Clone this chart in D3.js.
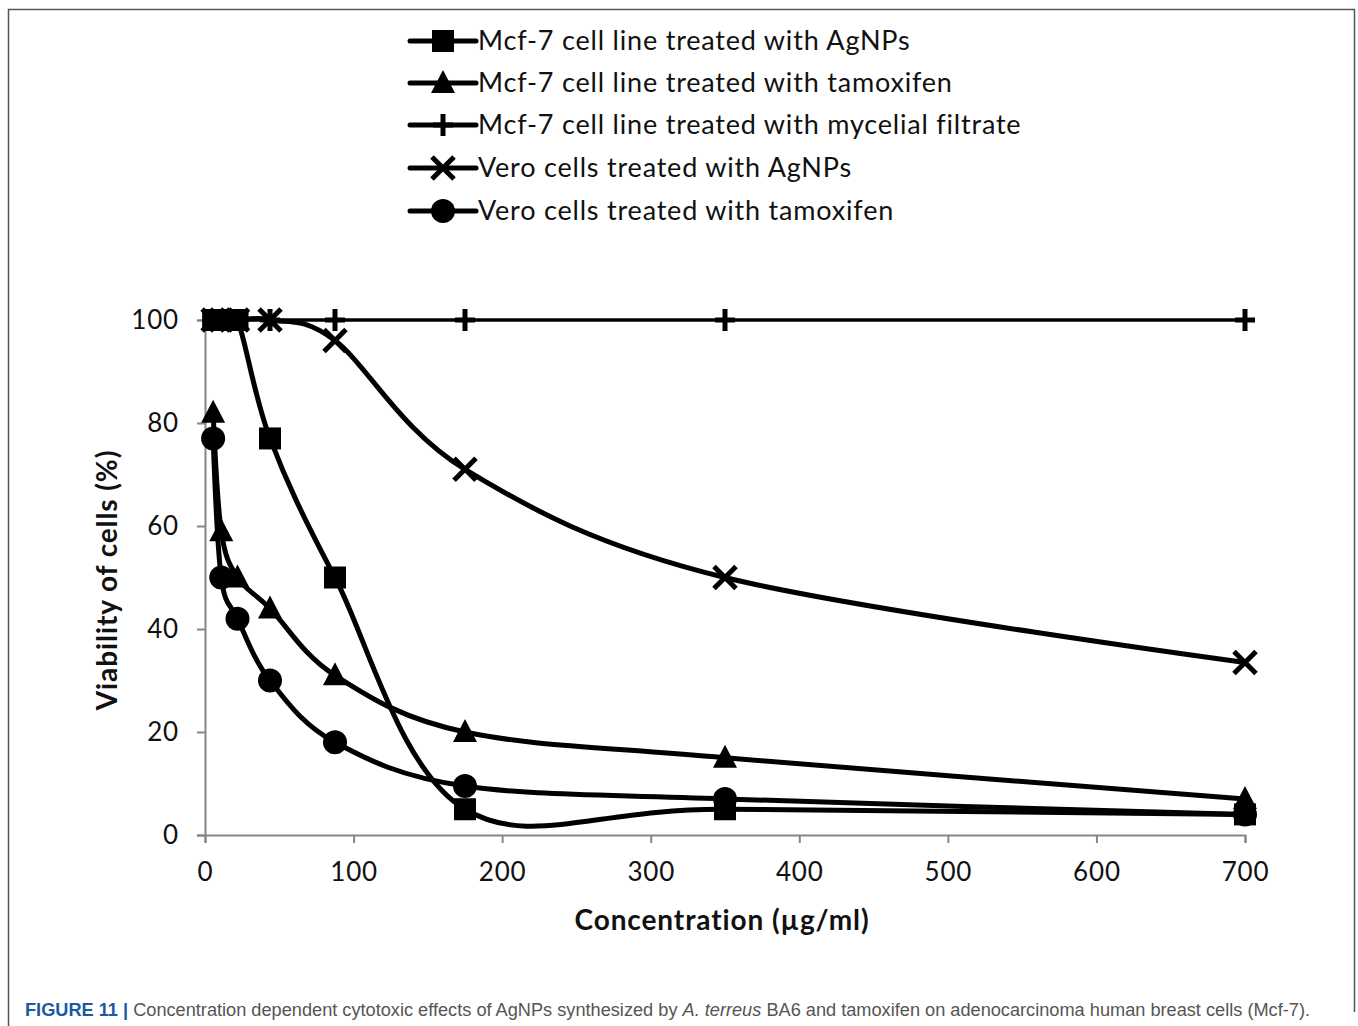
<!DOCTYPE html>
<html>
<head>
<meta charset="utf-8">
<script src="https://cdn.jsdelivr.net/npm/d3@7"></script>
<style>
  html, body { margin: 0; padding: 0; background: #fff; }
  svg { display: block; }
</style>
</head>
<body>
<svg id="chart" width="1358" height="1026"></svg>
<script>
// Concentrations (µg/ml), doubling dilution series
const concentrations = [5.47, 10.94, 21.875, 43.75, 87.5, 175, 350, 700];

// Cell viability (%) for each treatment
const mcfAgNPs      = [100, 100, 100, 77, 50, 5, 5, 4];
const mcfTamoxifen  = [82, 59, 50, 44, 31, 20, 15, 7];
const mcfMycelial   = [100, 100, 100, 100, 100, 100, 100, 100];
const veroAgNPs     = [100, 100, 100, 100, 96, 71, 50, 33.5];
const veroTamoxifen = [77, 50, 42, 30, 18, 9.5, 7, 4];

const seriesNames = [
  "Mcf-7 cell line treated with AgNPs",
  "Mcf-7 cell line treated with tamoxifen",
  "Mcf-7 cell line treated with mycelial filtrate",
  "Vero cells treated with AgNPs",
  "Vero cells treated with tamoxifen"
];
const seriesValues = [mcfAgNPs, mcfTamoxifen, mcfMycelial, veroAgNPs, veroTamoxifen];
const seriesMarkers = ["square", "triangle", "plus", "cross", "circle"];

const xTicks = [0, 100, 200, 300, 400, 500, 600, 700];
const yTicks = [0, 20, 40, 60, 80, 100];

const svg = d3.select("#chart");
const W = 1358, H = 1026;
svg.append("rect").attr("width", W).attr("height", H).attr("fill", "#fff");

// figure frame (left, top, right)
svg.append("path")
  .attr("d", "M8.5,1026 V9.5 H1354.5 V1012")
  .attr("fill", "none").attr("stroke", "#555").attr("stroke-width", 1.5);

const x = d3.scaleLinear().domain([0, 700]).range([205, 1245]);
const y = d3.scaleLinear().domain([0, 100]).range([835, 320]);

const axisColor = "#868686";
const tickFont = "Lato, 'Open Sans', sans-serif";

// x axis
const gx = svg.append("g").attr("transform", `translate(0,${y(0)})`)
  .call(d3.axisBottom(x).tickValues(xTicks).tickSize(8).tickPadding(20).tickFormat(d3.format("d")));
gx.select(".domain").attr("stroke", axisColor).attr("stroke-width", 2);
gx.selectAll(".tick line").attr("stroke", axisColor).attr("stroke-width", 2);
gx.selectAll(".tick text").attr("font-family", tickFont).attr("font-size", 26)
  .attr("letter-spacing", 0.8).attr("fill", "#111");

// y axis
const gy = svg.append("g").attr("transform", `translate(${x(0)},0)`)
  .call(d3.axisLeft(y).tickValues(yTicks).tickSize(8).tickPadding(18).tickFormat(d3.format("d")));
gy.select(".domain").attr("stroke", axisColor).attr("stroke-width", 2);
gy.selectAll(".tick line").attr("stroke", axisColor).attr("stroke-width", 2);
gy.selectAll(".tick text").attr("font-family", tickFont).attr("font-size", 26)
  .attr("letter-spacing", 0.8).attr("fill", "#111");

// axis titles
svg.append("text")
  .attr("x", 722).attr("y", 930)
  .attr("text-anchor", "middle")
  .attr("font-family", tickFont).attr("font-weight", "bold").attr("font-size", 28)
  .attr("letter-spacing", 0.9).attr("fill", "#111")
  .text("Concentration (µg/ml)");
svg.append("text")
  .attr("transform", "translate(117,580) rotate(-90)")
  .attr("text-anchor", "middle")
  .attr("font-family", tickFont).attr("font-weight", "bold").attr("font-size", 28)
  .attr("letter-spacing", 0.9).attr("fill", "#111")
  .text("Viability of cells (%)");

// marker drawing
function drawMarker(g, type, cx, cy) {
  const s = 11;
  if (type === "square") {
    g.append("rect").attr("x", cx - s).attr("y", cy - s).attr("width", 2 * s).attr("height", 2 * s).attr("fill", "#000");
  } else if (type === "triangle") {
    g.append("path").attr("d", `M${cx},${cy - 13} L${cx + 12},${cy + 10} L${cx - 12},${cy + 10} Z`).attr("fill", "#000");
  } else if (type === "circle") {
    g.append("circle").attr("cx", cx).attr("cy", cy).attr("r", 12).attr("fill", "#000");
  } else if (type === "plus") {
    g.append("path").attr("d", `M${cx - 10},${cy} H${cx + 10} M${cx},${cy - 11} V${cy + 11}`)
      .attr("stroke", "#000").attr("stroke-width", 5).attr("fill", "none");
  } else if (type === "cross") {
    g.append("path").attr("d", `M${cx - 11},${cy - 11} L${cx + 11},${cy + 11} M${cx + 11},${cy - 11} L${cx - 11},${cy + 11}`)
      .attr("stroke", "#000").attr("stroke-width", 5).attr("fill", "none");
  }
}

// smoothed series lines
const line = d3.line()
  .x(d => x(d[0])).y(d => y(d[1]))
  .curve(d3.curveCardinal.tension(0));

const plot = svg.append("g");
seriesValues.forEach((vals, i) => {
  const pts = concentrations.map((c, j) => [c, vals[j]]);
  plot.append("path").datum(pts)
    .attr("d", line)
    .attr("fill", "none").attr("stroke", "#000")
    .attr("stroke-width", i === 2 ? 3.5 : 5)
    .attr("stroke-linejoin", "round");
});
seriesValues.forEach((vals, i) => {
  const g = plot.append("g");
  concentrations.forEach((c, j) => drawMarker(g, seriesMarkers[i], x(c), y(vals[j])));
});

// legend
const legend = svg.append("g");
const legendRows = [41, 83, 125, 168, 211];
seriesNames.forEach((name, i) => {
  const ly = legendRows[i];
  legend.append("line").attr("x1", 410).attr("x2", 476).attr("y1", ly).attr("y2", ly)
    .attr("stroke", "#000").attr("stroke-width", 5).attr("stroke-linecap", "round");
  drawMarker(legend, seriesMarkers[i], 443, ly);
  legend.append("text")
    .attr("x", 478).attr("y", ly + 9)
    .attr("font-family", tickFont).attr("font-size", 27)
    .attr("letter-spacing", 0.8).attr("fill", "#111")
    .text(name);
});

// caption
const cap = svg.append("text")
  .attr("x", 25).attr("y", 1016)
  .attr("font-family", "'Liberation Sans', Arial, sans-serif").attr("font-size", 17.5)
  .attr("textLength", 1285).attr("lengthAdjust", "spacingAndGlyphs")
  .attr("fill", "#555");
cap.append("tspan").attr("font-weight", "bold").attr("fill", "#1b5aa0").text("FIGURE 11 | ");
cap.append("tspan").text("Concentration dependent cytotoxic effects of AgNPs synthesized by ");
cap.append("tspan").attr("font-style", "italic").text("A. terreus");
cap.append("tspan").text(" BA6 and tamoxifen on adenocarcinoma human breast cells (Mcf-7).");
</script>
</body>
</html>
